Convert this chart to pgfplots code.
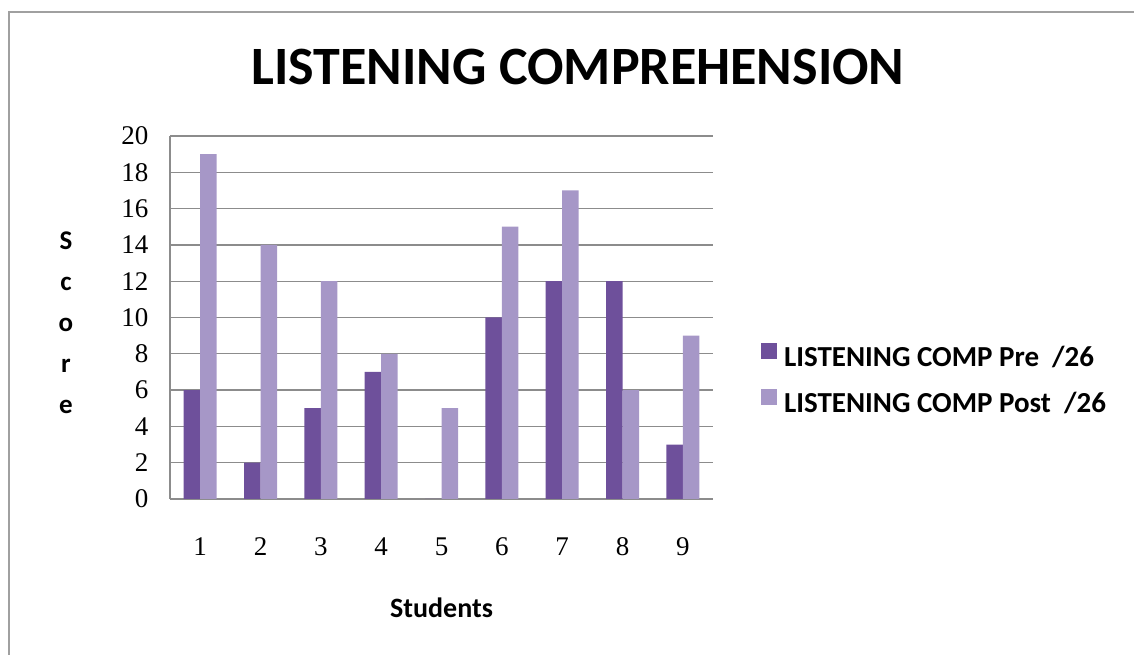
\documentclass[border=0pt]{standalone}
\usepackage{fontspec}
\usepackage{pgfplots}
\usepackage{pgfplotstable}
\pgfplotsset{compat=1.18}
\newfontfamily\carlito{Carlito}
\newfontfamily\tickserif{Liberation Serif}

\definecolor{prebar}{RGB}{110,80,155}
\definecolor{postbar}{RGB}{166,151,199}
\definecolor{gridgray}{RGB}{140,140,140}
\definecolor{framegray}{RGB}{160,160,160}

% Listening comprehension scores per student (out of 26)
\pgfplotstableread{
student pre post
1 6 19
2 2 14
3 5 12
4 7 8
5 0 5
6 10 15
7 12 17
8 12 6
9 3 9
}\scores

\begin{document}
\begin{tikzpicture}[x=1pt,y=1pt]
\useasboundingbox (0,0) rectangle (1134,655);
\clip (0,0) rectangle (1134,655);
% chart area frame
\draw[framegray, line width=2pt] (9,-10) -- (9,643) -- (1150,643);
% title
\node[font=\carlito\bfseries\fontsize{54}{54}\selectfont, anchor=base] at (578,570) {LISTENING COMPREHENSION};

\begin{axis}[
  at={(170pt,156pt)}, anchor=south west,
  scale only axis, width=543pt, height=363pt,
  xmin=0.5, xmax=9.5, ymin=0, ymax=20,
  ybar=0pt, bar width=16.5pt,
  xtick={1,...,9}, ytick={0,2,...,20},
  major tick length=0pt,
  axis lines*=left,
  axis line style={gridgray, line width=1.3pt},
  ymajorgrids, major grid style={gridgray, line width=1.3pt},
  /pgf/number format/assume math mode=true,
  tick label style={font=\tickserif\fontsize{27}{27}\selectfont},
  yticklabel style={xshift=-18pt},
  xticklabel style={yshift=-35pt},
  xlabel={Students},
  xlabel style={font=\carlito\bfseries\fontsize{28}{28}\selectfont, at={(axis description cs:0.5,0)}, anchor=center, yshift=-109pt},
  ylabel={S\\c\\o\\r\\e},
  ylabel style={font=\carlito\bfseries\fontsize{27}{41}\selectfont, align=center, rotate=-90, at={(axis description cs:0,0.485)}, anchor=center, xshift=-104pt},
  legend style={at={(1.0886,0.43)}, anchor=north west, draw=none, fill=none,
    inner sep=0pt, outer sep=0pt,
    font=\carlito\bfseries\fontsize{29}{29}\selectfont,
    nodes={inner sep=0pt, text height=20pt, text depth=6pt},
    row sep=16pt, column sep=7pt},
  legend cell align=left,
  legend image code/.code={\fill[#1] (0pt,1pt) rectangle (16pt,17pt);},
]
\addplot[fill=prebar, draw=none] table[x=student, y=pre] {\scores};
\addplot[fill=postbar, draw=none] table[x=student, y=post] {\scores};
\legend{LISTENING COMP Pre\ \ /26, LISTENING COMP Post\ \ /26}
\end{axis}
\end{tikzpicture}
\end{document}
